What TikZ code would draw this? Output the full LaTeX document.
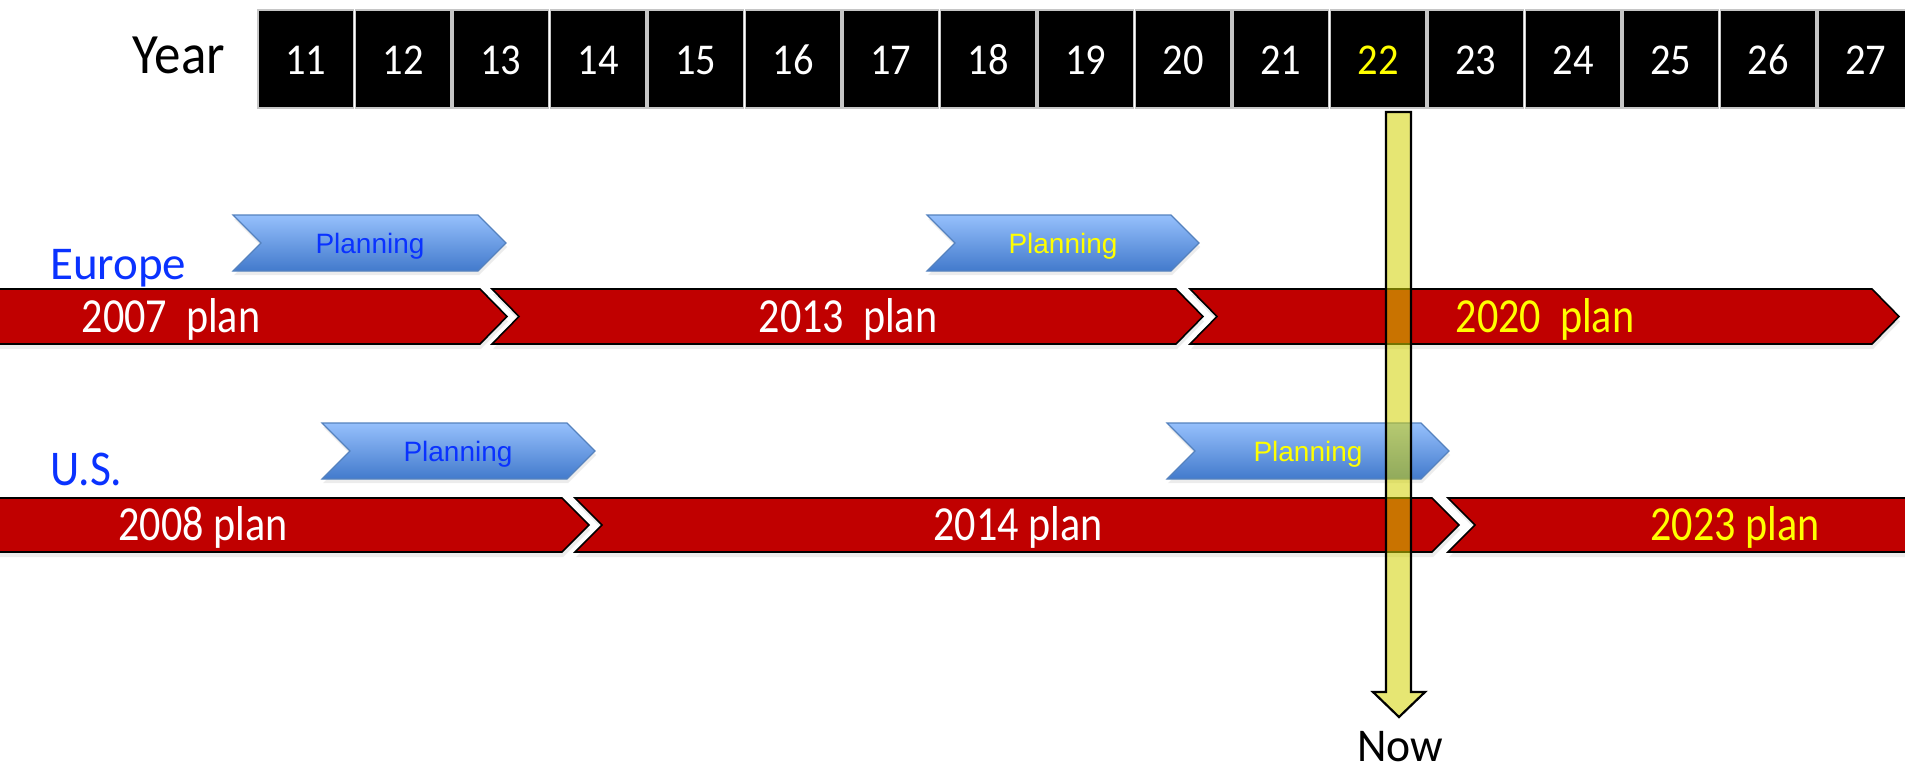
\documentclass[tikz,border=0pt]{standalone}
\usepackage{fontspec}
\setmainfont{Carlito}
\newfontfamily\arialf{Liberation Sans}
\usepackage{graphicx}
\usetikzlibrary{shadows}
\definecolor{barred}{RGB}{192,0,0}
\definecolor{lblblue}{RGB}{10,50,255}
\definecolor{txtyel}{RGB}{255,255,0}
\definecolor{pbtop}{RGB}{150,192,252}
\definecolor{pbbot}{RGB}{66,122,204}
\definecolor{pbedge}{RGB}{85,130,190}
\definecolor{nowfill}{RGB}{210,210,0}
\newcommand{\sx}[2]{\scalebox{#1}[1]{#2}}
\tikzset{
  yearbox/.style={fill=black, draw=gray!45, line width=1.2pt},
  redbar/.style={fill=barred, draw=black, line width=1.6pt, line join=miter,
    drop shadow={shadow xshift=1pt, shadow yshift=-5pt, opacity=0.15}},
  planarrow/.style={top color=pbtop, bottom color=pbbot, draw=pbedge, line width=1.2pt,
    drop shadow={shadow xshift=1pt, shadow yshift=-4pt, opacity=0.15}},
  nowarrow/.style={fill=nowfill, fill opacity=0.55, draw=black, draw opacity=1, line width=2.2pt, line join=miter},
  lbl/.style={inner sep=0pt, anchor=base},
  yeartxt/.style={lbl, font=\fontsize{44}{44}\selectfont},
  plantxt/.style={lbl, font=\fontsize{49}{49}\selectfont},
  plngtxt/.style={lbl, font=\arialf\fontsize{28}{28}\selectfont},
  regtxt/.style={inner sep=0pt, anchor=base west, text=lblblue},
}
\begin{document}
\begin{tikzpicture}[x=1pt,y=-1pt]
\useasboundingbox (0,0) rectangle (1905,770);
\clip (0,0) rectangle (1905,770);

% Year header
\node[lbl] (year) at (179,74) {\fontsize{57}{57}\selectfont\sx{0.93}{Year}};
\foreach \n [count=\i from 0] in {11,...,27}{
  \pgfmathsetmacro\bx{258+\i*97.5}
  \def\cc{white}\ifnum\n=22 \def\cc{txtyel}\fi
  \draw[yearbox] (\bx,10) rectangle ++(95.5,98);
  \node[yeartxt, text=\cc] (y\n) at (\bx+47.75,75) {\sx{0.92}{\n}};
}

% Europe
\node[regtxt, font=\fontsize{47}{47}\selectfont] (europe) at (50,279) {Europe};
\path[redbar] (-20,289) -- (480,289) -- (507,316.5) -- (480,344) -- (-20,344) -- cycle;
\path[redbar] (492,289) -- (1176,289) -- (1203,316.5) -- (1176,344) -- (492,344) -- (519,316.5) -- cycle;
\path[redbar] (1190,289) -- (1872,289) -- (1899,316.5) -- (1872,344) -- (1190,344) -- (1217,316.5) -- cycle;
\path[planarrow] (233,215) -- (478,215) -- (506,243) -- (478,271) -- (233,271) -- (261,243) -- cycle;
\path[planarrow] (927,215) -- (1171,215) -- (1199,243) -- (1171,271) -- (927,271) -- (955,243) -- cycle;
\node[plngtxt, text=lblblue] (pe1) at (370,253) {Planning};
\node[plngtxt, text=txtyel] (pe2) at (1063,253) {Planning};
\node[plantxt, text=white] (e2007) at (171,332) {\sx{0.86}{2007\ \ plan}};
\node[plantxt, text=white] (e2013) at (848,332) {\sx{0.86}{2013\ \ plan}};
\node[plantxt, text=txtyel] (e2020) at (1545,332) {\sx{0.86}{2020\ \ plan}};

% U.S.
\node[regtxt, font=\fontsize{50}{50}\selectfont] (us) at (50,485) {\sx{0.91}{U.S.}};
\path[redbar] (-20,498) -- (562,498) -- (589,525) -- (562,552) -- (-20,552) -- cycle;
\path[redbar] (575,498) -- (1432,498) -- (1459,525) -- (1432,552) -- (575,552) -- (602,525) -- cycle;
\path[redbar] (1448,498) -- (1960,498) -- (1960,552) -- (1448,552) -- (1475,525) -- cycle;
\path[planarrow] (322,423) -- (567,423) -- (595,451) -- (567,479) -- (322,479) -- (350,451) -- cycle;
\path[planarrow] (1167,423) -- (1421,423) -- (1449,451) -- (1421,479) -- (1167,479) -- (1195,451) -- cycle;
\node[plngtxt, text=lblblue] (pu1) at (458,461) {Planning};
\node[plngtxt, text=txtyel] (pu2) at (1308,461) {Planning};
\node[plantxt, text=white] (u2008) at (203,540) {\sx{0.86}{2008 plan}};
\node[plantxt, text=white] (u2014) at (1018,540) {\sx{0.86}{2014 plan}};
\node[plantxt, text=txtyel] (u2023) at (1735,540) {\sx{0.86}{2023 plan}};

% Now arrow
\path[nowarrow] (1386,112) -- (1411,112) -- (1411,692) -- (1425,692) -- (1399,717) -- (1373,692) -- (1386,692) -- cycle;
\node[lbl] (now) at (1400,761) {\fontsize{47}{47}\selectfont\sx{0.97}{Now}};
\end{tikzpicture}
\end{document}
